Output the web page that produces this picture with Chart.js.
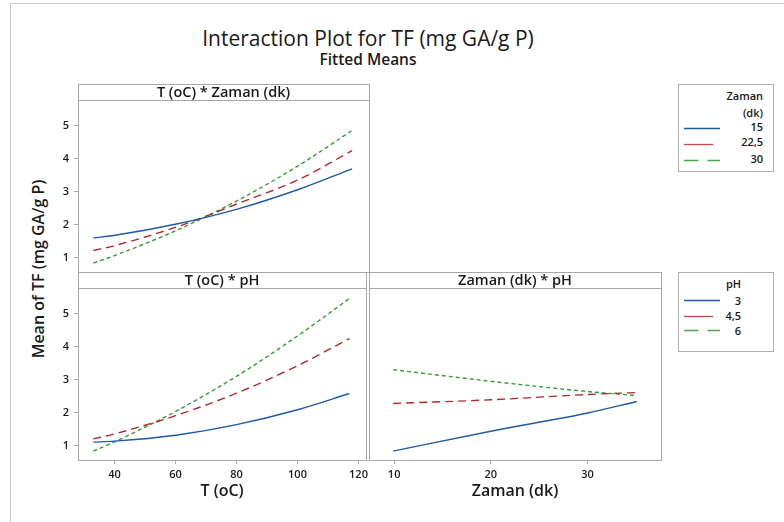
<!DOCTYPE html>
<html>
<head>
<meta charset="utf-8">
<script src="https://cdn.jsdelivr.net/npm/chart.js@4.4.1/dist/chart.umd.min.js"></script>
<style>
body { margin:0; background:#fff; width:784px; height:522px; position:relative; overflow:hidden; font-family:'Open Sans', sans-serif; color:#1a1a1a; }
canvas { position:absolute; }
.t { position:absolute; white-space:nowrap; }
#frameL { position:absolute; left:10px; top:3px; width:1px; height:519px; background:#cccccc; }
#frameT { position:absolute; left:10px; top:3px; width:774px; height:1px; background:#cccccc; }
.leg { position:absolute; border:1px solid #b0b0b0; background:#fff; font-size:11px; font-weight:600; line-height:15px; }
.leg .t { right:10px; }
</style>
</head>
<body>
<div id="frameL"></div><div id="frameT"></div>

<div class="t" style="left:0;width:736px;top:24px;text-align:center;font-size:21px;">Interaction Plot for TF (mg GA/g P)</div>
<div class="t" style="left:0;width:736px;top:48px;text-align:center;font-size:15.5px;font-weight:600;">Fitted Means</div>
<div class="t" style="left:38px;top:269px;font-size:16px;font-weight:600;transform:translate(-50%,-50%) rotate(-90deg);">Mean of TF (mg GA/g P)</div>

<canvas id="p1" width="372" height="189" style="left:0;top:84px"></canvas>
<canvas id="p2" width="372" height="250" style="left:0;top:272px"></canvas>
<canvas id="p3" width="295" height="250" style="left:369px;top:272px"></canvas>

<div class="leg" style="left:678px;top:84px;width:94px;height:86px;">
  <div class="t" style="top:2.5px;">Zaman</div>
  <div class="t" style="top:19.5px;">(dk)</div>
  <div class="t" id="zl0" style="top:33.5px;"></div>
  <div class="t" id="zl1" style="top:48.5px;"></div>
  <div class="t" id="zl2" style="top:66px;"></div>
  <svg width="94" height="86" style="position:absolute;left:0;top:0">
    <line x1="5" x2="41" y1="43.5" y2="43.5" stroke="#1f5aa6" stroke-width="1.3"/>
    <line x1="5" x2="34" y1="59.5" y2="59.5" stroke="#c0454a" stroke-width="1.3"/>
    <line x1="5" x2="41" y1="75.5" y2="75.5" stroke="#4aa64a" stroke-width="1.3" stroke-dasharray="14.5 9"/>
  </svg>
</div>

<div class="leg" style="left:678px;top:272px;width:94px;height:78px;">
  <div class="t" style="top:2.8px;right:32px;">pH</div>
  <div class="t" id="pl0" style="top:19.5px;right:32px;"></div>
  <div class="t" id="pl1" style="top:35px;right:32px;"></div>
  <div class="t" id="pl2" style="top:49.5px;right:32px;"></div>
  <svg width="94" height="78" style="position:absolute;left:0;top:0">
    <line x1="5" x2="41" y1="27.5" y2="27.5" stroke="#1f5aa6" stroke-width="1.3"/>
    <line x1="5" x2="34" y1="43.5" y2="43.5" stroke="#c0454a" stroke-width="1.3"/>
    <line x1="5" x2="41" y1="57.5" y2="57.5" stroke="#4aa64a" stroke-width="1.3" stroke-dasharray="14.5 9"/>
  </svg>
</div>

<script>
// factor levels (x positions of the fitted means)
var tempX = [33, 40, 60, 80, 100, 117];
var zamanX = [9.9, 20, 30, 35.1];

var zamanLevels = ['15', '22,5', '30'];
var phLevels = ['3', '4,5', '6'];

// T (oC) * Zaman (dk)
var tZaman15 = [1.60, 1.68, 2.02, 2.48, 3.08, 3.69];
var tZaman22 = [1.22, 1.37, 1.93, 2.64, 3.38, 4.24];
var tZaman30 = [0.84, 1.07, 1.83, 2.74, 3.81, 4.85];

// T (oC) * pH
var tPh3 = [1.11, 1.14, 1.32, 1.64, 2.09, 2.58];
var tPh45 = [1.21, 1.36, 1.91, 2.59, 3.42, 4.24];
var tPh6 = [0.84, 1.12, 2.04, 3.10, 4.32, 5.45];

// Zaman (dk) * pH
var zPh3 = [0.84, 1.44, 1.99, 2.34];
var zPh45 = [2.28, 2.39, 2.55, 2.61];
var zPh6 = [3.30, 2.95, 2.64, 2.52];

var yTicks = [1, 2, 3, 4, 5];
var tTicks = [40, 60, 80, 100, 120];
var zTicks = [10, 20, 30];

var colors = ['#1f5aa6', '#b2282e', '#3a9a3a'];
var dashes = [[], [8, 5], [4, 3]];
var boxColor = '#a8a8a8';
var tickFont = { family: 'Open Sans', size: 11, weight: '600' };

for (var i = 0; i < 3; i++) {
    document.getElementById('zl' + i).textContent = zamanLevels[i];
    document.getElementById('pl' + i).textContent = phLevels[i];
}

function pts(xs, ys) {
    var out = [];
    for (var i = 0; i < xs.length; i++) out.push({ x: xs[i], y: ys[i] });
    return out;
}

function series(xs, list, labels) {
    return list.map(function(ys, i) {
        return {
            label: labels[i],
            data: pts(xs, ys),
            borderColor: colors[i],
            borderWidth: 1.4,
            borderDash: dashes[i],
            pointRadius: 0,
            cubicInterpolationMode: 'monotone',
            fill: false
        };
    });
}

// box + header strip around each panel
var panelBox = {
    id: 'panelBox',
    afterDraw: function(chart, args, opts) {
        var a = chart.chartArea, ctx = chart.ctx;
        ctx.save();
        ctx.strokeStyle = boxColor;
        ctx.lineWidth = 1;
        ctx.strokeRect(Math.round(a.left) + 0.5, Math.round(a.top) + 0.5, Math.round(a.right - a.left), Math.round(a.bottom - a.top));
        ctx.strokeRect(Math.round(a.left) + 0.5, Math.round(a.top) - 15.5, Math.round(a.right - a.left), 16);
        ctx.fillStyle = '#1a1a1a';
        ctx.font = '600 14.5px "Open Sans"';
        ctx.textAlign = 'center';
        ctx.textBaseline = 'middle';
        ctx.fillText(opts.header, (a.left + a.right) / 2, a.top - 7);
        ctx.restore();
    }
};

function makePanel(id, cfg) {
    var xs = {
        type: 'linear',
        display: cfg.showX,
        min: cfg.xMin, max: cfg.xMax,
        afterBuildTicks: function(s) { s.ticks = cfg.xTicks.map(function(v) { return { value: v }; }); },
        afterFit: function(s) { s.height = cfg.showX ? 62 : 0; },
        grid: { drawOnChartArea: false, drawTicks: true, tickLength: 4, color: boxColor },
        border: { display: false },
        ticks: { color: '#1a1a1a', font: tickFont, padding: 4, maxRotation: 0 },
        title: { display: true, text: cfg.xTitle, color: '#1a1a1a', font: { family: 'Open Sans', size: 16, weight: '600' }, padding: { top: 0, bottom: 21 } }
    };
    var ys = {
        type: 'linear',
        display: cfg.showY,
        min: 0.57, max: 5.77,
        afterBuildTicks: function(s) { s.ticks = yTicks.map(function(v) { return { value: v }; }); },
        afterFit: function(s) {
            s.width = cfg.showY ? 78 : 0;
            s.paddingTop = 0;
            s.paddingBottom = 0;
        },
        grid: { drawOnChartArea: false, drawTicks: true, tickLength: 4, color: boxColor },
        border: { display: false },
        ticks: { color: '#1a1a1a', font: tickFont, padding: 5 }
    };
    return new Chart(document.getElementById(id), {
        type: 'line',
        data: { datasets: cfg.datasets },
        options: {
            responsive: false,
            animation: false,
            layout: { padding: cfg.padding },
            scales: { x: xs, y: ys },
            plugins: { legend: { display: false }, tooltip: { enabled: false }, panelBox: { header: cfg.header } }
        },
        plugins: [panelBox]
    });
}

makePanel('p1', {
    header: 'T (oC) * Zaman (dk)',
    datasets: series(tempX, [tZaman15, tZaman22, tZaman30], zamanLevels),
    showX: false, showY: true,
    xMin: 28, xMax: 122.5, xTicks: tTicks, xTitle: 'T (oC)',
    padding: { left: 0, top: 16, right: 3, bottom: 1 }
});

makePanel('p2', {
    header: 'T (oC) * pH',
    datasets: series(tempX, [tPh3, tPh45, tPh6], phLevels),
    showX: true, showY: true,
    xMin: 28, xMax: 122.5, xTicks: tTicks, xTitle: 'T (oC)',
    padding: { left: 0, top: 16, right: 3, bottom: 0 }
});

makePanel('p3', {
    header: 'Zaman (dk) * pH',
    datasets: series(zamanX, [zPh3, zPh45, zPh6], phLevels),
    showX: true, showY: false,
    xMin: 7.4, xMax: 37.6, xTicks: zTicks, xTitle: 'Zaman (dk)',
    padding: { left: 0, top: 16, right: 3, bottom: 0 }
});
</script>
</body>
</html>
